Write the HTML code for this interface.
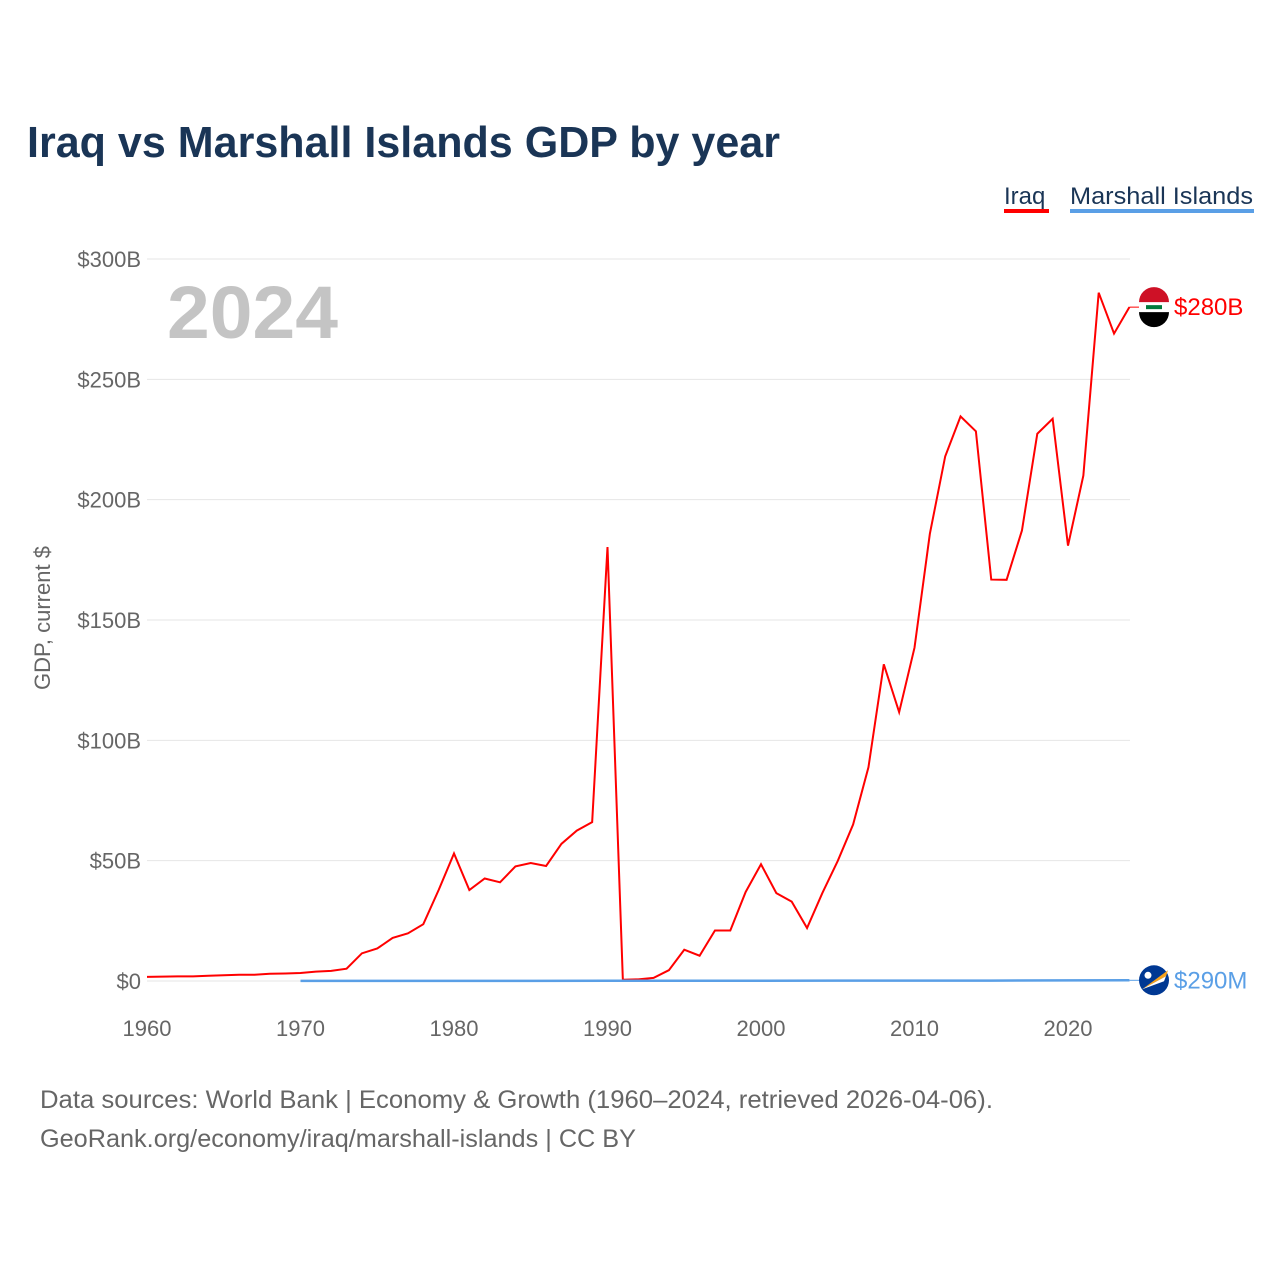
<!DOCTYPE html>
<html><head><meta charset="utf-8"><style>
body{margin:0;background:#fff;width:1280px;height:1280px;overflow:hidden;font-family:"Liberation Sans",sans-serif}
svg text{font-family:"Liberation Sans",sans-serif}
</style></head><body>
<svg id="chart" width="1280" height="1280">
<text x="27" y="157" font-size="44" font-weight="bold" fill="#1a3556" textLength="753" lengthAdjust="spacingAndGlyphs">Iraq vs Marshall Islands GDP by year</text>
<g><text x="1004" y="204" font-size="24" fill="#1a3556">Iraq</text><rect x="1004" y="209" width="45" height="4" fill="#f00"/></g>
<g><text x="1070" y="204" font-size="24" fill="#1a3556" textLength="183" lengthAdjust="spacingAndGlyphs">Marshall Islands</text><rect x="1070" y="209" width="184" height="4" fill="#5a9fe6"/></g>
<text x="167" y="338" font-size="74" font-weight="bold" fill="#c4c4c4" textLength="171" lengthAdjust="spacingAndGlyphs">2024</text>
<text transform="translate(50,618) rotate(-90)" text-anchor="middle" font-size="22" fill="#666">GDP, current $</text>
<g id="grid"></g><g id="series"></g>
<text x="40" y="1108" font-size="25" fill="#666" textLength="953" lengthAdjust="spacingAndGlyphs">Data sources: World Bank | Economy &amp; Growth (1960–2024, retrieved 2026-04-06).</text>
<text x="40" y="1147" font-size="25" fill="#666" textLength="596" lengthAdjust="spacingAndGlyphs">GeoRank.org/economy/iraq/marshall-islands | CC BY</text>
</svg>
<script>
const yearsIraq=[1960,1961,1962,1963,1964,1965,1966,1967,1968,1969,1970,1971,1972,1973,1974,1975,1976,1977,1978,1979,1980,1981,1982,1983,1984,1985,1986,1987,1988,1989,1990,1991,1992,1993,1994,1995,1996,1997,1998,1999,2000,2001,2002,2003,2004,2005,2006,2007,2008,2009,2010,2011,2012,2013,2014,2015,2016,2017,2018,2019,2020,2021,2022,2023,2024];
const iraqGDP=[1.7,1.8,1.9,1.9,2.2,2.4,2.6,2.6,3.0,3.1,3.3,3.9,4.2,5.1,11.5,13.5,17.9,19.8,23.6,37.8,53.0,37.8,42.6,41,47.6,49,47.8,57,62.5,66,180.3,0.5,0.7,1.3,4.5,13,10.5,21,21,37,48.5,36.5,33,22,36.6,49.9,65,88.8,131.6,111.7,138.5,185.8,218,234.6,228.4,166.8,166.7,187.2,227.4,233.6,180.9,210,286,269,280];
const yearsMhl=[1970,1975,1980,1985,1990,1995,2000,2005,2010,2015,2020,2024];
const mhlGDP=[0.03,0.04,0.05,0.06,0.08,0.11,0.11,0.14,0.17,0.18,0.24,0.29];
const yTicks=[0,50,100,150,200,250,300];
const yTickLabels=["$0","$50B","$100B","$150B","$200B","$250B","$300B"];
const xTicks=[1960,1970,1980,1990,2000,2010,2020];
const NS="http://www.w3.org/2000/svg";
const x=y=>147+(y-1960)*(1068-147)/60;
const yv=v=>981-v*(981-259)/300;
function mk(t,a,p){const e=document.createElementNS(NS,t);for(const k in a)e.setAttribute(k,a[k]);p.appendChild(e);return e;}
const g=document.getElementById('grid'),s=document.getElementById('series');
yTicks.forEach((v,i)=>{
 const l=mk('line',{x1:147,x2:1130,y1:yv(v),y2:yv(v),stroke:'#e6e6e6','stroke-width':1},g);
 
 
 const t=mk('text',{x:141,y:yv(v)+8,'text-anchor':'end','font-size':22,fill:'#666'},g);
 t.textContent=yTickLabels[i];
 
 
});
xTicks.forEach(v=>{
 const t=mk('text',{x:x(v),y:1036,'text-anchor':'middle','font-size':22,fill:'#666'},g);
 t.textContent=v;
 
 
});
const p1=mk('polyline',{points:yearsIraq.map((y,i)=>x(y)+','+yv(iraqGDP[i])).join(' '),fill:'none',stroke:'#f00','stroke-width':2},s);


const p2=mk('polyline',{points:yearsMhl.map((y,i)=>x(y)+','+yv(mhlGDP[i])).join(' '),fill:'none',stroke:'#5a9fe6','stroke-width':2.5},s);


function endLabel(val,txt,col,name,flag){
 const yy=yv(val);
 mk('line',{x1:x(2024),x2:1140,y1:yy,y2:yy,stroke:col,'stroke-width':1},s);
 const c=mk('g',{},s);
 
 
 if(flag==='iq'){
  mk('circle',{cx:1154,cy:yy,r:15,fill:'#fff'},c);
  mk('path',{d:`M1139,${yy-5} A15,15 0 0 1 1169,${yy-5} Z`,fill:'#ce1126'},c);
  mk('path',{d:`M1139,${yy+5} A15,15 0 0 0 1169,${yy+5} Z`,fill:'#000'},c);
  mk('rect',{x:1146,y:yy-2,width:16,height:4,fill:'#007a3d'},c);
 }else{
  mk('circle',{cx:1154,cy:yy,r:15,fill:'#003893'},c);
  mk('path',{d:`M1142,${yy+9} L1168,${yy-10} L1166,${yy-4} Z`,fill:'#f7a21b'},c);
  mk('path',{d:`M1142,${yy+9} L1166,${yy-4} L1164,${yy+1} Z`,fill:'#fff'},c);
  mk('circle',{cx:1148,cy:yy-5,r:3.5,fill:'#fff'},c);
 }
 const t=mk('text',{x:1174,y:yy+8,'font-size':24,fill:col},s);
 t.textContent=txt;
 
 
}
endLabel(iraqGDP[iraqGDP.length-1],'$280B','#f00','iraq','iq');
endLabel(mhlGDP[mhlGDP.length-1],'$290M','#5a9fe6','marshall-islands','mh');
</script>
</body></html>
